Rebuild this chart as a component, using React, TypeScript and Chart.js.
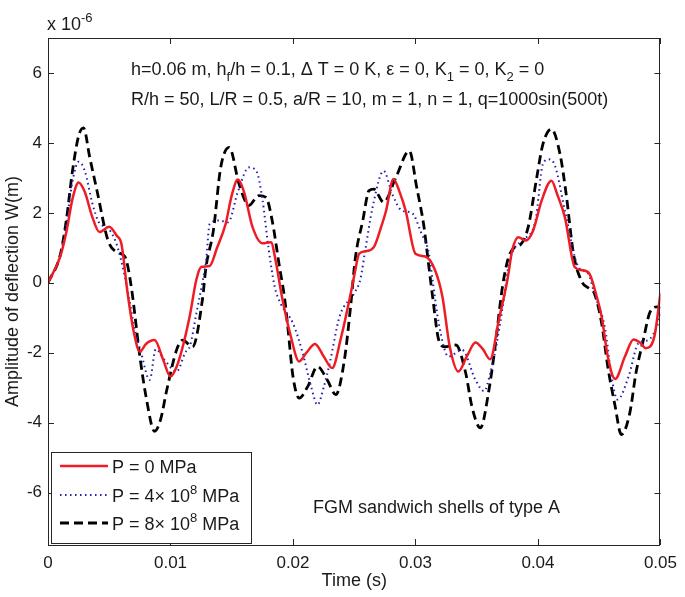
import React, { useEffect, useRef } from "react";
import { Chart, registerables } from "chart.js";

Chart.register(...registerables);

// ---------- data (W in units of 1e-6 m, t in s) ----------
const xTicks = [0, 0.01, 0.02, 0.03, 0.04, 0.05];
const yTicks = [-6, -4, -2, 0, 2, 4, 6];
const seriesLabels = ["P = 0 MPa", "P = 4× 10^8 MPa", "P = 8× 10^8 MPa"];

const redT = [
  0, 0.001, 0.0015, 0.002, 0.0025, 0.003, 0.0036, 0.0042, 0.005, 0.0056, 0.006, 0.0065, 0.007, 0.0075,
  0.008, 0.0087, 0.0094, 0.01, 0.0105, 0.011, 0.0116, 0.0121, 0.0125, 0.0132, 0.0138, 0.0145, 0.015,
  0.0155, 0.016, 0.0167, 0.0175, 0.0182, 0.0186, 0.0191, 0.0198, 0.0205, 0.0211, 0.0218, 0.0225,
  0.0232, 0.0239, 0.0246, 0.025, 0.0254, 0.0259, 0.0266, 0.0272, 0.0276, 0.0282, 0.0287, 0.0292,
  0.03, 0.0308, 0.0316, 0.0322, 0.0328, 0.0335, 0.0342, 0.0349, 0.0355, 0.0361, 0.0368, 0.0375,
  0.0379, 0.0384, 0.039, 0.0396, 0.0403, 0.0411, 0.0416, 0.0422, 0.043, 0.0436, 0.0442, 0.0448,
  0.0452, 0.0457, 0.0463, 0.0471, 0.0478, 0.0483, 0.0488, 0.0495, 0.05,
];
const redW = [
  0, 0.75, 1.45, 2.4, 2.87, 2.6, 1.9, 1.45, 1.6, 1.35, 1.1, -0.3, -1.4, -1.97, -1.75, -1.64, -2.2,
  -2.68, -2.4, -1.83, -0.9, 0.07, 0.45, 0.48, 1.0, 1.68, 2.5, 2.95, 2.6, 1.59, 1.13, 1.16, 0.6, -0.4,
  -1.5, -2.25, -2.0, -1.75, -2.1, -2.44, -1.6, -0.5, 0.2, 0.83, 0.9, 1.02, 1.6, 2.06, 2.97, 2.6, 2.06,
  0.83, 0.75, 0.36, -0.4, -1.83, -2.54, -2.1, -1.71, -1.9, -2.19, -1.07, 0.07, 0.93, 1.3, 1.21, 1.49,
  2.35, 2.92, 2.5, 1.87, 0.45, 0.36, 0.26, -0.4, -0.97, -2.11, -2.75, -2.11, -1.62, -1.7, -1.87,
  -1.54, -0.3,
];

const blueT = [
  0, 0.001, 0.0015, 0.002, 0.0025, 0.003, 0.0036, 0.0042, 0.0048, 0.0055, 0.006, 0.0066, 0.007,
  0.0076, 0.0083, 0.0088, 0.0095, 0.0105, 0.0112, 0.0116, 0.0121, 0.0126, 0.0129, 0.0132, 0.014,
  0.0147, 0.0155, 0.0164, 0.017, 0.0175, 0.018, 0.0185, 0.019, 0.02, 0.0208, 0.0215, 0.022, 0.0225,
  0.023, 0.0238, 0.025, 0.0255, 0.0259, 0.0265, 0.0274, 0.0281, 0.0289, 0.0297, 0.0305, 0.0311,
  0.0314, 0.0319, 0.0327, 0.0338, 0.0349, 0.0356, 0.0361, 0.0366, 0.0372, 0.0376, 0.038, 0.0387,
  0.0398, 0.0404, 0.0409, 0.0414, 0.0422, 0.0433, 0.0441, 0.0446, 0.0455, 0.046, 0.0465, 0.0474,
  0.0482, 0.049, 0.0497, 0.05,
];
const blueW = [
  0, 0.8, 1.7, 2.9, 3.46, 3.2, 2.3, 1.7, 1.59, 1.2, 0.6, -0.4, -1.2, -2.0, -2.78, -1.9, -2.2, -2.54,
  -2.0, -1.8, -0.9, 0.0, 0.6, 1.68, 1.78, 1.73, 2.6, 3.3, 3.2, 2.4, 1.0, -0.1, -0.6, -1.16, -2.02,
  -3.0, -3.49, -3.0, -2.3, -0.97, -0.3, 0.1, 0.93, 2.16, 3.2, 2.54, 2.06, 2.0, 1.4, 0.83, 0.07,
  -1.16, -2.11, -1.92, -2.78, -3.1, -2.6, -1.8, -0.5, 0.5, 0.93, 1.21, 1.78, 3.39, 3.53, 3.34, 2.06,
  0.45, 0.26, -0.3, -1.35, -2.68, -3.34, -2.68, -1.73, -1.64, -1.26, -0.9,
];

const blackT = [
  0, 0.001, 0.0015, 0.002, 0.0025, 0.0029, 0.0034, 0.004, 0.0049, 0.0056, 0.0063, 0.0068, 0.0075,
  0.008, 0.0087, 0.0092, 0.0097, 0.0105, 0.011, 0.0118, 0.0126, 0.0129, 0.0135, 0.0141, 0.0148,
  0.0156, 0.0164, 0.0172, 0.0178, 0.0183, 0.0189, 0.0193, 0.0196, 0.02, 0.0205, 0.0212, 0.022,
  0.0228, 0.0235, 0.0242, 0.0247, 0.0251, 0.0257, 0.0262, 0.0266, 0.0274, 0.0284, 0.0295, 0.0301,
  0.0307, 0.031, 0.0314, 0.0319, 0.0324, 0.0333, 0.0341, 0.0346, 0.0353, 0.036, 0.0365, 0.0371,
  0.0376, 0.0381, 0.0386, 0.0392, 0.0399, 0.0404, 0.0411, 0.0418, 0.0423, 0.0429, 0.0436, 0.0442,
  0.0446, 0.0452, 0.0457, 0.0463, 0.0468, 0.0475, 0.048, 0.0486, 0.0491, 0.0497, 0.05,
];
const blackW = [
  0, 0.8, 1.8, 3.2, 4.2, 4.43, 3.6, 2.63, 1.21, 0.88, 0.73, -0.12, -2.11, -3.25, -4.25, -3.9, -3.06,
  -1.92, -1.64, -1.83, -0.5, 0.45, 1.49, 3.3, 3.87, 2.82, 2.21, 2.49, 2.44, 1.78, 0.45, -0.4, -1.35,
  -2.68, -3.3, -2.97, -2.4, -2.78, -3.2, -2.2, -0.69, 0.73, 1.78, 2.63, 2.68, 2.3, 3.01, 3.77, 2.73,
  1.59, 0.73, -0.4, -1.64, -1.83, -1.78, -2.58, -3.53, -4.15, -3.06, -1.83, -0.12, 0.73, 1.02, 1.1,
  1.59, 3.01, 3.96, 4.39, 3.68, 2.54, 0.83, 0.02, -0.17, -0.3, -1.16, -2.4, -3.53, -4.34, -3.72,
  -2.58, -1.64, -0.88, -0.69, -0.73,
];

// ---------- styling ----------
const FONT = '"Liberation Sans", Arial, Helvetica, sans-serif';
const RED = "#ee1c24";
const BLUE = "#1f1fb0";
const BLACK = "#000000";

type Seg = [string, number]; // 0 normal, 1 superscript, -1 subscript

function drawRich(ctx: CanvasRenderingContext2D, segs: Seg[], x: number, y: number, size: number) {
  let cx = x;
  ctx.textBaseline = "alphabetic";
  ctx.textAlign = "left";
  for (const [t, k] of segs) {
    const s = k === 0 ? size : Math.round(size * 0.72);
    ctx.font = `${s}px ${FONT}`;
    const dy = k === 1 ? -size * 0.45 : k === -1 ? size * 0.32 : 0;
    ctx.fillText(t, cx, y + dy);
    cx += ctx.measureText(t).width;
  }
}

function toPts(t: number[], w: number[]) {
  return t.map((v, i) => ({ x: v, y: w[i] }));
}

const decorPlugin = {
  id: "decor",
  afterDatasetsDraw(chart: any) {
    const { ctx, chartArea: a, scales } = chart;
    const xs = scales.x;
    const ys = scales.y;
    ctx.save();
    // box
    ctx.strokeStyle = "#262626";
    ctx.lineWidth = 1;
    ctx.strokeRect(Math.round(a.left) + 0.5, Math.round(a.top) + 0.5, Math.round(a.right - a.left) - 1, Math.round(a.bottom - a.top));
    // inward ticks
    const tl = 6;
    ctx.beginPath();
    for (const v of xTicks) {
      const px = Math.round(xs.getPixelForValue(v)) + 0.5;
      ctx.moveTo(px, a.bottom);
      ctx.lineTo(px, a.bottom - tl);
      ctx.moveTo(px, a.top);
      ctx.lineTo(px, a.top + tl);
    }
    for (const v of yTicks) {
      const py = Math.round(ys.getPixelForValue(v)) + 0.5;
      ctx.moveTo(a.left, py);
      ctx.lineTo(a.left + tl, py);
      ctx.moveTo(a.right, py);
      ctx.lineTo(a.right - tl, py);
    }
    ctx.stroke();

    ctx.fillStyle = "#1a1a1a";
    // exponent label
    drawRich(ctx, [["x 10", 0], ["-6", 1]], a.left - 1, 30, 18);

    // parameter annotations
    drawRich(
      ctx,
      [
        ["h=0.06 m, h", 0],
        ["f", -1],
        ["/h = 0.1, \u0394 T = 0 K, \u03b5 = 0, K", 0],
        ["1", -1],
        [" = 0, K", 0],
        ["2", -1],
        [" = 0", 0],
      ],
      131,
      75,
      18
    );
    drawRich(ctx, [["R/h = 50, L/R = 0.5, a/R = 10, m = 1, n = 1, q=1000sin(500t)", 0]], 131, 105, 18);
    drawRich(ctx, [["FGM sandwich shells of type A", 0]], 313, 513, 18);

    // legend
    const lx = 51, ly = 452, lw = 200, lh = 91;
    ctx.fillStyle = "#ffffff";
    ctx.fillRect(lx, ly, lw, lh);
    ctx.strokeStyle = "#262626";
    ctx.lineWidth = 1;
    ctx.strokeRect(lx + 0.5, ly + 0.5, lw, lh);
    const rows = [466, 495, 523];
    chart.data.datasets.forEach((ds: any, i: number) => {
      const ry = rows[i];
      ctx.save();
      ctx.strokeStyle = ds.borderColor;
      ctx.lineWidth = ds.borderWidth;
      ctx.setLineDash(ds.borderDash || []);
      ctx.beginPath();
      ctx.moveTo(60, ry);
      ctx.lineTo(108, ry);
      ctx.stroke();
      ctx.restore();
      ctx.fillStyle = "#1a1a1a";
      const label: string = seriesLabels[i];
      const m = label.match(/^(.*10)\^(\d+)(.*)$/);
      const segs: Seg[] = m ? [[m[1], 0], [m[2], 1], [m[3], 0]] : [[label, 0]];
      drawRich(ctx, segs, 112, ry + 7, 18);
    });
    ctx.restore();
  },
};

export default function App() {
  const ref = useRef<HTMLCanvasElement | null>(null);
  useEffect(() => {
    if (!ref.current) return;
    const mk = (label: string, t: number[], w: number[], color: string, width: number, dash: number[]) => ({
      label,
      data: toPts(t, w),
      borderColor: color,
      backgroundColor: color,
      borderWidth: width,
      borderDash: dash,
      pointRadius: 0,
      fill: false,
      tension: 0.4,
      cubicInterpolationMode: "monotone" as const,
    });
    const chart = new Chart(ref.current, {
      type: "line",
      data: {
        datasets: [
          mk(seriesLabels[0], redT, redW, RED, 2.5, []),
          mk(seriesLabels[1], blueT, blueW, BLUE, 2, [1.5, 3.5]),
          mk(seriesLabels[2], blackT, blackW, BLACK, 2.8, [9, 5]),
        ],
      },
      options: {
        animation: false,
        responsive: false,
        devicePixelRatio: 1,
        layout: { padding: { left: 0, right: 22, top: 38, bottom: 0 } },
        plugins: { legend: { display: false }, tooltip: { enabled: false } },
        scales: {
          x: {
            type: "linear",
            min: 0,
            max: 0.05,
            grid: { display: false, drawTicks: false, tickLength: 0 },
            border: { display: false },
            afterBuildTicks: (s: any) => {
              s.ticks = xTicks.map((v) => ({ value: v }));
            },
            afterFit: (s: any) => {
              s.height = 52;
            },
            ticks: {
              autoSkip: false,
              maxRotation: 0,
              padding: 8,
              color: "#1a1a1a",
              font: { family: FONT, size: 17 },
              callback: (v: any) => String(Number(v)),
            },
            title: {
              display: true,
              text: "Time (s)",
              color: "#1a1a1a",
              font: { family: FONT, size: 18 },
              padding: { top: 0, bottom: 5 },
            },
          },
          y: {
            type: "linear",
            min: -7.5,
            max: 7,
            grid: { display: false, drawTicks: false, tickLength: 0 },
            border: { display: false },
            afterBuildTicks: (s: any) => {
              s.ticks = yTicks.map((v) => ({ value: v }));
            },
            afterFit: (s: any) => {
              s.width = 48;
            },
            ticks: {
              autoSkip: false,
              padding: 6,
              color: "#1a1a1a",
              font: { family: FONT, size: 17 },
              callback: (v: any) => String(Number(v)),
            },
            title: {
              display: true,
              text: "Amplitude of deflection W(m)",
              color: "#1a1a1a",
              font: { family: FONT, size: 18 },
              padding: { top: 2, bottom: 0 },
            },
          },
        },
      },
      plugins: [decorPlugin],
    });
    return () => chart.destroy();
  }, []);
  return (
    <div style={{ position: "fixed", left: 0, top: 0, width: 685, height: 597, background: "#fff" }}>
      <canvas ref={ref} width={685} height={597} style={{ display: "block", width: 685, height: 597 }} />
    </div>
  );
}
